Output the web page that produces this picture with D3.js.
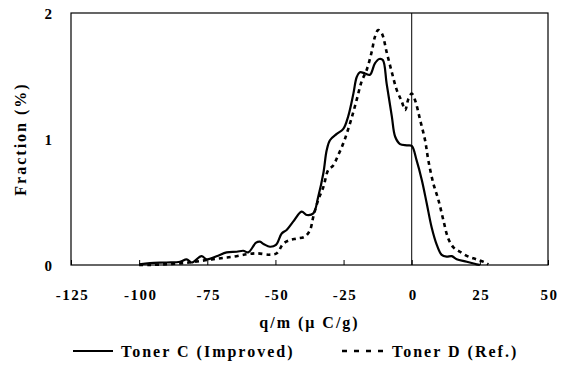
<!DOCTYPE html>
<html>
<head>
<meta charset="utf-8">
<script src="https://cdn.jsdelivr.net/npm/d3@7"></script>
<style>
  body { margin: 0; background: #fff; }
</style>
</head>
<body>
<div id="chart"></div>
<script>

// Toner C (Improved), solid line
var cQ    = [-100, -96, -90, -85, -82.6, -80.7, -77.1, -75.2, -71.6, -67.9, -64.2, -61.8, -60, -57.1, -55.7, -54.2, -52, -49.8, -47.7, -45.9, -43.5, -40.4, -38.5, -36.1, -34.3, -32.4, -31.2, -30, -27.5, -25.1, -23.3, -21.4, -20.2, -19, -17.1, -15.3, -13.5, -11.9, -10.6, -9.2, -7.3, -6.1, -4.3, -1.8, 0, 1.8, 3.7, 5.5, 7.3, 9.2, 11, 12.8, 14.7, 16.5, 20.2, 23.8, 25];
var cFrac = [0.005, 0.015, 0.02, 0.026, 0.045, 0.02, 0.07, 0.045, 0.07, 0.1, 0.105, 0.113, 0.1, 0.177, 0.185, 0.165, 0.145, 0.16, 0.25, 0.278, 0.344, 0.423, 0.397, 0.41, 0.542, 0.73, 0.91, 0.99, 1.04, 1.08, 1.18, 1.36, 1.49, 1.53, 1.52, 1.51, 1.6, 1.635, 1.627, 1.44, 1.18, 1.02, 0.96, 0.95, 0.945, 0.83, 0.675, 0.49, 0.3, 0.16, 0.08, 0.066, 0.07, 0.045, 0.026, 0.005, 0];

// Toner D (Ref.), dashed line
var dQ    = [-100, -96, -91, -85, -80, -75, -70, -65.5, -60.5, -57, -52, -49.5, -47.1, -44.7, -42.2, -39.2, -37.3, -36.1, -34.3, -32.4, -30.6, -28.8, -27, -25.1, -23.8, -22, -20.2, -18.4, -16.5, -14.7, -13.5, -12.3, -11, -9.2, -7.3, -5.5, -3.7, -2.4, -1.2, 0, 1.2, 3.1, 4.9, 6.1, 7.9, 9.8, 11.6, 13.4, 15.3, 17.7, 20.8, 23.8, 26.9, 28.1];
var dFrac = [0, 0, 0.005, 0.013, 0.024, 0.04, 0.053, 0.066, 0.085, 0.093, 0.082, 0.093, 0.17, 0.198, 0.21, 0.225, 0.278, 0.383, 0.516, 0.62, 0.754, 0.79, 0.87, 0.966, 1.045, 1.17, 1.31, 1.455, 1.55, 1.69, 1.81, 1.865, 1.84, 1.69, 1.53, 1.39, 1.3, 1.23, 1.32, 1.36, 1.31, 1.15, 0.99, 0.83, 0.65, 0.516, 0.357, 0.21, 0.14, 0.105, 0.066, 0.045, 0.02, 0.005];

var xTicks = [-125, -100, -75, -50, -25, 0, 25, 50];
var yTicks = [0, 1, 2];
var seriesNames = ["Toner C (Improved)", "Toner D (Ref.)"];

var serif = "'Liberation Serif', 'Times New Roman', 'DejaVu Serif', serif";

var margin = {top: 13, right: 15, bottom: 102, left: 71},
    width = 563 - margin.left - margin.right,
    height = 367 - margin.top - margin.bottom;

var svg = d3.select("#chart")
  .append("svg")
    .attr("width", 563)
    .attr("height", 367)
  .append("g")
    .attr("transform", "translate(" + margin.left + "," + margin.top + ")");

function boldText(sel, size, spacing){
    sel.attr("fill", "#000")
       .style("font-family", serif)
       .style("font-weight", "bold")
       .style("font-size", size + "px")
       .style("letter-spacing", spacing + "px");
}

var x = d3.scaleLinear().domain([-125, 50]).range([0, width]);
var y = d3.scaleLinear().domain([0, 2]).range([height, 0]);

// x axis, ticks pointing up into the plot
var gx = svg.append("g")
    .attr("transform", "translate(0," + height + ")")
    .call(d3.axisBottom(x).tickValues(xTicks).tickSizeInner(-5).tickSizeOuter(0).tickPadding(24)
        .tickFormat(function(d){ return String(d); }));
gx.select(".domain").remove();
gx.selectAll("line").attr("stroke", "#000");
gx.selectAll("text")
    .call(boldText, 15, 1.5)
    .attr("dx", "1px");

var gy = svg.append("g")
    .call(d3.axisLeft(y).tickValues(yTicks).tickSize(0).tickPadding(19)
        .tickFormat(function(d){ return String(d); }));
gy.select(".domain").remove();
gy.selectAll("text")
    .call(boldText, 15, 0)
    .attr("dy", "0.35em");

// frame
svg.append("rect")
    .attr("x", 0).attr("y", 0)
    .attr("width", width).attr("height", height)
    .attr("fill", "none")
    .attr("stroke", "#000")
    .attr("stroke-width", 1.2);

// value axis crossing at q/m = 0
svg.append("line")
    .attr("x1", x(0)).attr("x2", x(0))
    .attr("y1", 0).attr("y2", height)
    .attr("stroke", "#000")
    .attr("stroke-width", 1);

var line = d3.line()
    .x(function(d){ return x(d[0]); })
    .y(function(d){ return y(d[1]); })
    .curve(d3.curveCatmullRom.alpha(0.5));

var cData = cQ.map(function(q, i){ return [q, cFrac[i]]; });
var dData = dQ.map(function(q, i){ return [q, dFrac[i]]; });

svg.append("path")
    .datum(dData)
    .attr("d", line)
    .attr("fill", "none")
    .attr("stroke", "#000")
    .attr("stroke-width", 2.6)
    .attr("stroke-dasharray", "4,4");

svg.append("path")
    .datum(cData)
    .attr("d", line)
    .attr("fill", "none")
    .attr("stroke", "#000")
    .attr("stroke-width", 2.2);

// axis titles
svg.append("text")
    .attr("x", width / 2)
    .attr("y", height + 63)
    .attr("text-anchor", "middle")
    .call(boldText, 16, 2)
    .text("q/m (\u03BC C/g)");

svg.append("text")
    .attr("transform", "translate(" + (-45) + "," + (height / 2) + ")rotate(-90)")
    .attr("text-anchor", "middle")
    .call(boldText, 16, 2)
    .text("Fraction (%)");

// legend
var legend = d3.select("svg").append("g");
var legendItems = [
    {x1: 73, x2: 113, tx: 121, dash: null, w: 2.2},
    {x1: 342, x2: 390, tx: 392, dash: "5,7", w: 2.6}
];
legendItems.forEach(function(it, i){
    legend.append("line")
        .attr("x1", it.x1).attr("x2", it.x2)
        .attr("y1", 351).attr("y2", 351)
        .attr("stroke", "#000")
        .attr("stroke-width", it.w)
        .attr("stroke-dasharray", it.dash);
    legend.append("text")
        .attr("x", it.tx)
        .attr("y", 357)
        .call(boldText, 16, 2)
        .text(seriesNames[i]);
});

</script>
</body>
</html>
